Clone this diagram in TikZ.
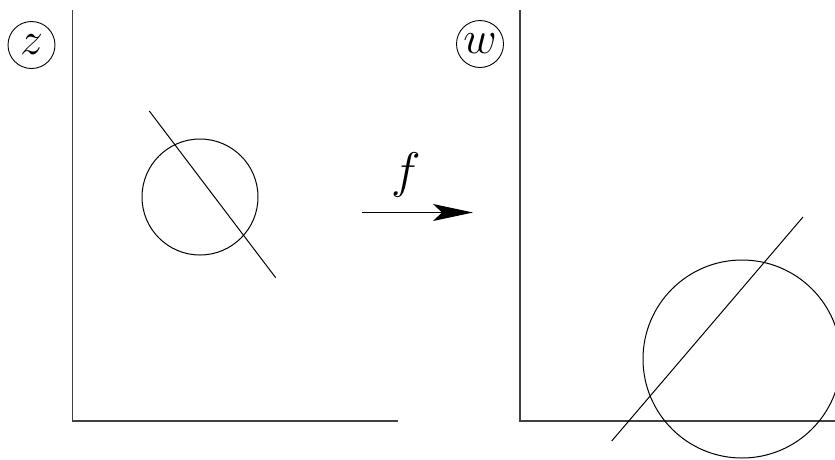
\RequirePackage{fix-cm}
\documentclass[tikz,border=0pt]{standalone}
\usetikzlibrary{arrows.meta,positioning}

\begin{document}
\begin{tikzpicture}[x=1pt,y=-1pt,line width=1pt,
    axis/.style={line width=1.3pt,draw=black!75},
    lbl/.style={draw,circle,line width=0.9pt,minimum size=47pt,inner sep=0pt,font=\fontsize{46}{50}\selectfont},
    maparrow/.style={-{Stealth[length=40pt,width=17pt,inset=9pt]}}]
        \clip (0,0) rectangle (835,459);
        % z-plane
        \coordinate (zo) at (72.7,421);
        \draw[axis] (72.7,10) -- (zo) -- (397.7,421);
        \node[lbl] (zl) at (31.5,45) {$z$};
        \draw (200,197) circle[radius=58];
        \coordinate (za) at (149.3,111);
        \coordinate (zb) at (275.7,277.7);
        \draw (za) -- (zb);
        % the map
        \coordinate (fa) at (362,212.5);
        \coordinate (fb) at (473,212.5);
        \draw[maparrow] (fa) -- (fb);
        \node[font=\fontsize{50}{54}\selectfont] (fl) at (406,175) {$f$};
        % w-plane
        \coordinate (wo) at (520,421);
        \draw[axis] (520,10) -- (wo) -- (835,421);
        \node[lbl] (wl) at (480,44) {$w$};
        \draw (742,359) circle[radius=99];
        \coordinate (wa) at (611.7,441);
        \coordinate (wb) at (803,217);
        \draw (wa) -- (wb);
      \end{tikzpicture}
\end{document}
